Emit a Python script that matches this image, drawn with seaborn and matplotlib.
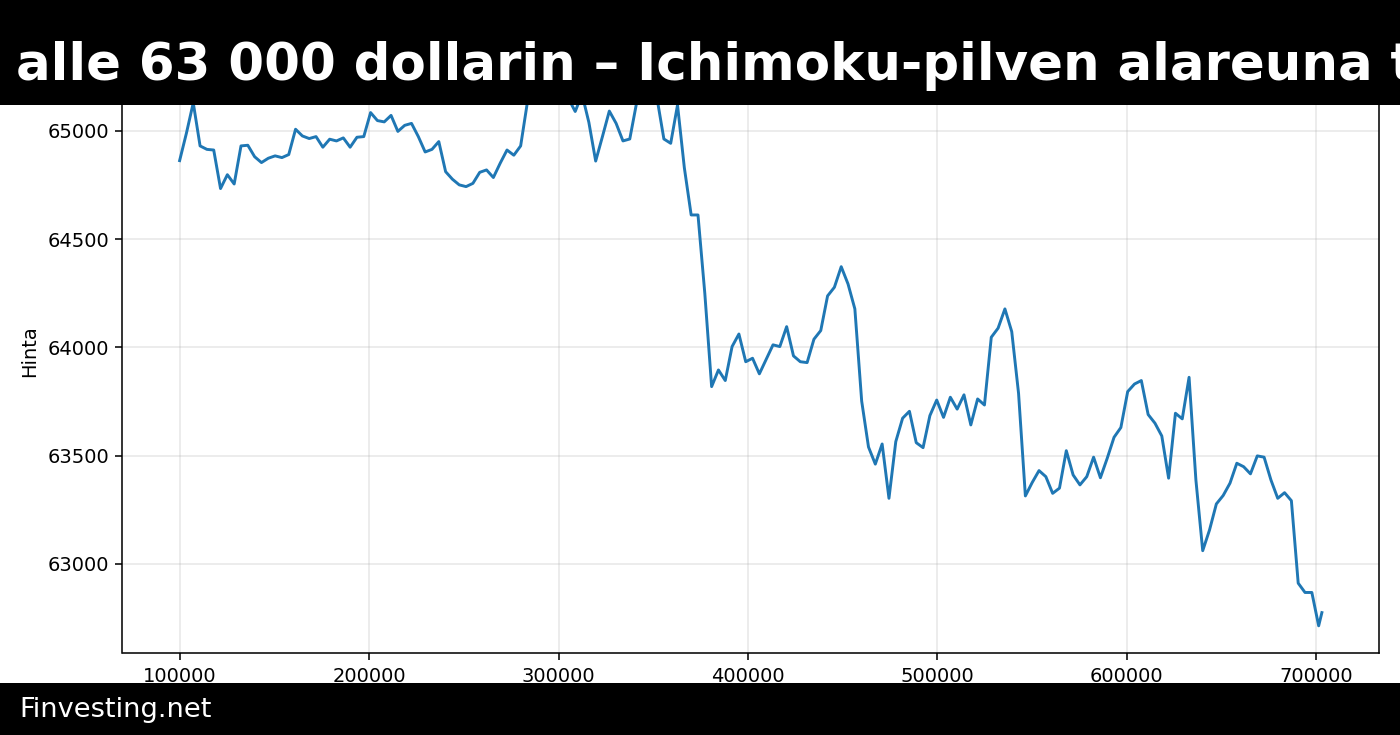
import matplotlib
matplotlib.use("Agg")
import matplotlib.pyplot as plt
from matplotlib.patches import Rectangle
import seaborn as sns
import pandas as pd

# ---- data ----
x_first = 100000
x_step = 3600
x_last = 702900

price = [
    64863, 64990, 65130, 64931, 64915, 64912, 64734, 64798, 64755, 64931,
    64934, 64881, 64854, 64874, 64885, 64877, 64891, 65008, 64977, 64965,
    64974, 64925, 64962, 64954, 64968, 64925, 64971, 64974, 65085, 65048,
    65042, 65072, 64998, 65026, 65035, 64974, 64903, 64915, 64951, 64812,
    64777, 64751, 64743, 64758, 64809, 64820, 64785, 64851, 64912, 64888,
    64931, 65135, 65200, 65250, 65210, 65240, 65190, 65150, 65090, 65170,
    65040, 64861, 64975, 65092, 65035, 64954, 64963, 65130, 65220, 65190,
    65150, 64963, 64943, 65120, 64830, 64612, 64612, 64250, 63819, 63896,
    63847, 64004, 64062, 63934, 63950, 63878, 63945, 64012, 64004, 64096,
    63961, 63934, 63930, 64038, 64078, 64238, 64278, 64373, 64293, 64178,
    63752, 63540, 63461, 63554, 63303, 63565, 63673, 63705, 63560, 63537,
    63685, 63757, 63677, 63770, 63715, 63781, 63642, 63762, 63734, 64047,
    64089, 64178, 64073, 63788, 63314, 63376, 63431, 63403, 63326, 63350,
    63523, 63411, 63365, 63403, 63493, 63398, 63488, 63585, 63630, 63796,
    63831, 63847, 63690, 63650, 63591, 63396, 63696, 63670, 63862, 63388,
    63061, 63157, 63277, 63316, 63373, 63465, 63449, 63416, 63499, 63493,
    63388, 63303, 63329, 63292, 62911, 62868, 62868, 62714, 62775,
]
xs = [x_first + x_step * i for i in range(len(price) - 1)] + [x_last]

title_text = "alle 63 000 dollarin – Ichimoku-pilven alareuna t"
footer_text = "Finvesting.net"
y_label = "Hinta"
y_limits = (62587, 65381)

df = pd.DataFrame({"x": xs, "Hinta": price})

# ---- figure ----
W, H = 1400, 735
fig = plt.figure(figsize=(10, 5.25), dpi=140)
ax = fig.add_axes([122.5 / W, 1 - 653.3 / H, (1379 - 122.5) / W, (653.3 - 48.5) / H])

sns.lineplot(data=df, x="x", y="Hinta", ax=ax, color="#1f77b4",
             linewidth=1.5, errorbar=None)
ax.set_ylim(*y_limits)
ax.set_xlabel("")
ax.set_ylabel(y_label)
ax.grid(True, alpha=0.3)

# banners
fig.add_artist(Rectangle((0, 1 - 105 / H), 1, 105 / H, transform=fig.transFigure,
                         facecolor="black", edgecolor="none", zorder=5))
fig.add_artist(Rectangle((0, 0), 1, (H - 682.7) / H, transform=fig.transFigure,
                         facecolor="black", edgecolor="none", zorder=5))

fig.text(16.5 / W, 1 - 80 / H, title_text, color="white", fontsize=26.45,
         fontweight="bold", ha="left", va="baseline", zorder=6)
fig.text(19 / W, 1 - 717 / H, footer_text, color="white", fontsize=14,
         ha="left", va="baseline", zorder=6)

fig.savefig("out.png", dpi=140)
